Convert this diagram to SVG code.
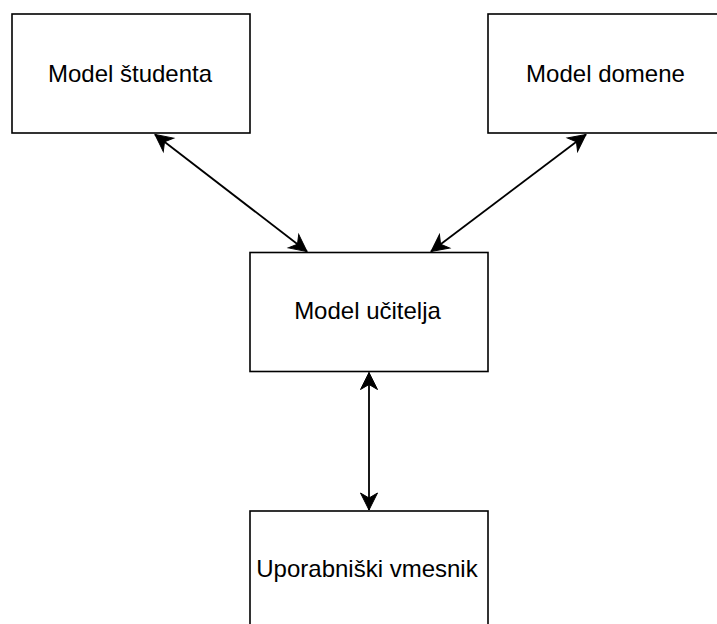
<svg xmlns="http://www.w3.org/2000/svg" width="717" height="624" viewBox="0 0 717 624">
  <style>
    .box { fill: #ffffff; stroke: #000000; stroke-width: 1.6; }
    .label { font-family: "Liberation Sans", Arial, Helvetica, sans-serif; font-size: 24px; fill: #000000; text-anchor: middle; }
    .link { fill: none; stroke: #000000; stroke-width: 1.8; marker-start: url(#arrow); marker-end: url(#arrow); }
  </style>
  <defs>
    <marker id="arrow" viewBox="-19 -10 20 20" refX="0" refY="0" markerWidth="20" markerHeight="20" markerUnits="userSpaceOnUse" orient="auto-start-reverse">
      <path d="M0,0 L-17,-8.5 L-12,0 L-17,8.5 Z" fill="#000000" stroke="#000000" stroke-width="1"/>
    </marker>
  </defs>
  <rect width="717" height="624" fill="#ffffff"/>

  <g id="connectors">
    <line class="link" x1="155" y1="134.5" x2="307" y2="251.5"/>
    <line class="link" x1="586" y1="134.5" x2="431" y2="251.5"/>
    <line class="link" x1="369" y1="372.5" x2="369" y2="510"/>
  </g>

  <g id="model-studenta">
    <rect class="box" x="12" y="14" width="238" height="119"/>
    <text class="label" x="130" y="81.5">Model študenta</text>
  </g>

  <g id="model-domene">
    <rect class="box" x="488" y="14" width="238" height="119"/>
    <text class="label" x="605.5" y="81.5">Model domene</text>
  </g>

  <g id="model-ucitelja">
    <rect class="box" x="250" y="252.5" width="238" height="119"/>
    <text class="label" x="367.5" y="319">Model učitelja</text>
  </g>

  <g id="uporabniski-vmesnik">
    <rect class="box" x="250" y="511" width="238" height="119"/>
    <text class="label" x="367" y="576.5">Uporabniški vmesnik</text>
  </g>
</svg>
